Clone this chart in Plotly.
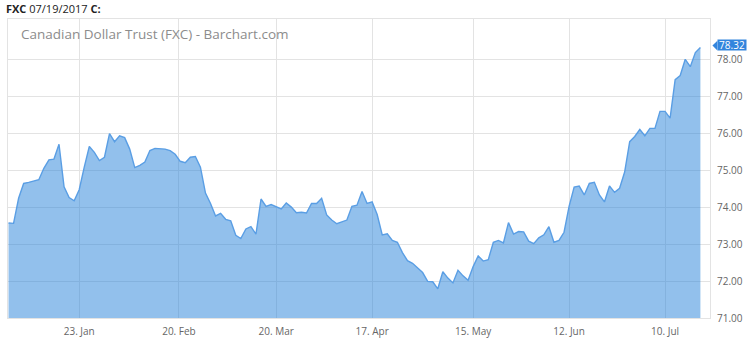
import numpy as np
import pandas as pd
import plotly.graph_objects as go

# --- data ---
holidays = ["2017-01-02", "2017-01-16", "2017-02-20", "2017-04-14", "2017-05-29", "2017-07-04"]
trading_days = [d for d in pd.bdate_range("2016-12-30", "2017-07-19") if d.strftime("%Y-%m-%d") not in holidays]

close_prices = [
    73.57, 73.56, 74.24, 74.64, 74.67, 74.71, 74.74, 75.05, 75.28, 75.30,
    75.70, 74.55, 74.26, 74.17, 74.47, 75.08, 75.64, 75.48, 75.26, 75.35,
    75.99, 75.77, 75.93, 75.88, 75.57, 75.07, 75.13, 75.22, 75.53, 75.59,
    75.59, 75.57, 75.53, 75.43, 75.24, 75.20, 75.35, 75.37, 75.08, 74.38,
    74.10, 73.76, 73.83, 73.67, 73.63, 73.24, 73.15, 73.41, 73.47, 73.27,
    74.22, 74.02, 74.07, 74.00, 73.95, 74.11, 74.00, 73.85, 73.86, 73.84,
    74.10, 74.10, 74.24, 73.79, 73.65, 73.55, 73.60, 73.65, 74.02, 74.05,
    74.42, 74.10, 74.14, 73.80, 73.25, 73.28, 73.10, 73.05, 72.77, 72.55,
    72.48, 72.36, 72.23, 71.99, 71.98, 71.79, 72.25, 72.08, 71.95, 72.29,
    72.14, 72.02, 72.39, 72.68, 72.54, 72.58, 73.05, 73.10, 73.03, 73.58,
    73.27, 73.34, 73.33, 73.08, 73.01, 73.17, 73.25, 73.47, 73.05, 73.10,
    73.32, 74.02, 74.54, 74.57, 74.33, 74.64, 74.67, 74.33, 74.14, 74.57,
    74.40, 74.51, 74.95, 75.77, 75.91, 76.10, 75.93, 76.13, 76.13, 76.59,
    76.59, 76.41, 77.45, 77.56, 78.00, 77.80, 78.18, 78.32,
]

tick_dates = ["2017-01-23", "2017-02-20", "2017-03-20", "2017-04-17", "2017-05-15", "2017-06-12", "2017-07-10"]
tick_labels = ["23. Jan", "20. Feb", "20. Mar", "17. Apr", "15. May", "12. Jun", "10. Jul"]
y_ticks = [71, 72, 73, 74, 75, 76, 77, 78]

# ordinal x positions (trading-day index), ticks interpolated by time
idx = np.arange(len(trading_days))
day_ts = np.array([d.value for d in trading_days], dtype=float)
tick_pos = np.interp([pd.Timestamp(t).value for t in tick_dates], day_ts, idx)
last = close_prices[-1]

fig = go.Figure()
fig.add_trace(go.Scatter(
    x=idx, y=close_prices, mode="lines",
    line=dict(color="rgb(90,158,228)", width=1.4),
    fill="tozeroy", fillcolor="rgba(37,129,217,0.5)",
    hoverinfo="skip", showlegend=False,
))

fig.update_layout(
    width=750, height=345,
    margin=dict(l=7, r=34, t=19, b=21),
    paper_bgcolor="white", plot_bgcolor="white",
    font=dict(family="Open Sans", color="#666666"),
    xaxis=dict(
        range=[-0.1, 138.9], tickmode="array", tickvals=tick_pos, ticktext=tick_labels,
        showgrid=True, gridcolor="#e3e3e3", gridwidth=1, zeroline=False,
        showline=True, mirror=True, linecolor="#e3e3e3", linewidth=1,
        tickfont=dict(size=10, color="#666666"), ticks="", ticklabelstandoff=4,
    ),
    yaxis=dict(
        range=[71, 79.09], side="right", tickmode="array", tickvals=y_ticks,
        tickformat=".2f", showgrid=True, gridcolor="#e3e3e3", gridwidth=1,
        zeroline=False, showline=True, mirror=True, linecolor="#e3e3e3", linewidth=1,
        tickfont=dict(size=10, color="#666666"), ticks="", ticklabelstandoff=4,
    ),
)

fig.add_annotation(
    xref="paper", yref="paper", x=0.0155, y=0.95, xanchor="left", yanchor="middle",
    text="Canadian Dollar Trust (FXC) - Barchart.com", showarrow=False,
    font=dict(size=13.5, color="#8c8c8c", family="Open Sans"),
)
fig.add_annotation(
    xref="paper", yref="paper", x=-0.006, y=1.036, xanchor="left", yanchor="middle",
    text="<b>FXC</b> 07/19/2017 <b>C:</b>", showarrow=False,
    font=dict(size=11, color="#222222", family="Open Sans"),
)
fig.add_annotation(
    xref="paper", yref="y", x=1.0, y=last, xanchor="left", yanchor="middle",
    xshift=7, yshift=2, text=f"{last:.2f}", showarrow=False, bgcolor="rgb(51,133,221)",
    borderpad=0, height=10, width=28,
    font=dict(size=10, color="white", family="Open Sans"),
)
fig.add_shape(
    type="path", xref="paper", yref="y", layer="above", line=dict(width=0),
    fillcolor="rgb(51,133,221)",
    path=f"M 1.0035 {last + 0.05} L 1.0105 {last + 0.18} L 1.0105 {last - 0.08} Z",
)

fig.write_html("out.html")
